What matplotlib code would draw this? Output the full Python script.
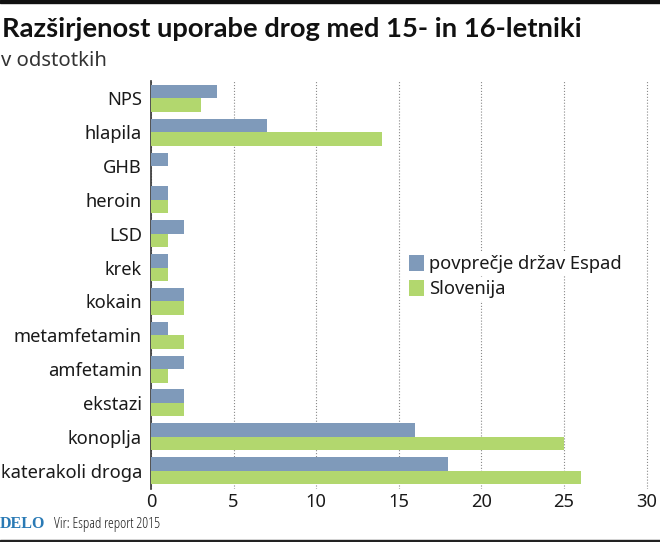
import matplotlib
matplotlib.use('Agg')
import matplotlib.pyplot as plt

# data
drogas = ['NPS', 'hlapila', 'GHB', 'heroin', 'LSD', 'krek', 'kokain',
          'metamfetamin', 'amfetamin', 'ekstazi', 'konoplja', 'katerakoli droga']
espad = [4, 7, 1, 1, 2, 1, 2, 1, 2, 2, 16, 18]
slovenija = [3, 14, 0, 1, 1, 1, 2, 2, 1, 2, 25, 26]
xticks = [0, 5, 10, 15, 20, 25, 30]

W, H = 660, 542
MODRA = '#7f9aba'
ZELENA = '#b2d76e'
TEXT = '#1a1a1a'

plt.rcParams['font.family'] = ['Noto Sans', 'DejaVu Sans']
fig = plt.figure(figsize=(W / 100, H / 100), dpi=100)
ax = fig.add_axes([151 / W, 1 - 489 / H, (W - 151) / W, (489 - 81) / H])

y = list(range(len(drogas)))
h = 0.4
ax.barh([i - h / 2 for i in y], espad, h, color=MODRA, label='povprečje držav Espad', zorder=3)
ax.barh([i + h / 2 for i in y], slovenija, h, color=ZELENA, label='Slovenija', zorder=3)

ax.set_xlim(0, (W - 151) / 16.52)
ax.set_ylim(11.547, -0.517)
ax.set_yticks(y)
ax.set_yticklabels(drogas)
ax.set_xticks(xticks)
ax.tick_params(axis='y', length=0, pad=6.5, labelsize=13.2, colors=TEXT)
ax.tick_params(axis='x', length=0, pad=3, labelsize=13.2, colors=TEXT)
ax.xaxis.grid(True, linestyle=':', color='#8a8a8a', linewidth=0.8, zorder=0)
ax.set_axisbelow(True)
for s in ['top', 'right', 'bottom']:
    ax.spines[s].set_visible(False)
ax.spines['left'].set_color('#333333')
ax.spines['left'].set_linewidth(1.2)

leg = ax.legend(loc='upper left', bbox_to_anchor=(409 / W, 1 - 255 / H), bbox_transform=fig.transFigure,
                frameon=False, fontsize=13.2, handlelength=0.82, handleheight=0.95,
                handletextpad=0.27, labelspacing=0.36, borderpad=0, borderaxespad=0)
for t in leg.get_texts():
    t.set_color(TEXT)
    t.set_bbox(dict(facecolor='white', edgecolor='none', pad=2))

# naslov
fig.text(2 / W, 1 - 29 / H, 'Razširjenost uporabe drog med 15- in 16-letniki', family='Lato',
         fontweight='bold', fontsize=19.7, color='#111111', va='center')
fig.text(1 / W, 1 - 61 / H, 'v odstotkih', fontsize=14.6, color='#333333', va='center')

# noga
fig.text(0, 1 - 524 / H, 'DELO', family='Liberation Serif', fontweight='bold', fontsize=11.5,
         color='#2a7ab5', va='center')
fig.text(54 / W, 1 - 524 / H, 'Vir: Espad report 2015', family='Open Sans', fontstretch='condensed',
         fontsize=10.7, color='#222222', va='center')

# crti zgoraj in spodaj
fig.add_artist(plt.Rectangle((0, 1 - 3 / H), 1, 3 / H, transform=fig.transFigure, color='#111111'))
fig.add_artist(plt.Rectangle((0, 0), 1, 2 / H, transform=fig.transFigure, color='#222222'))

fig.savefig('out.png', dpi=100)
